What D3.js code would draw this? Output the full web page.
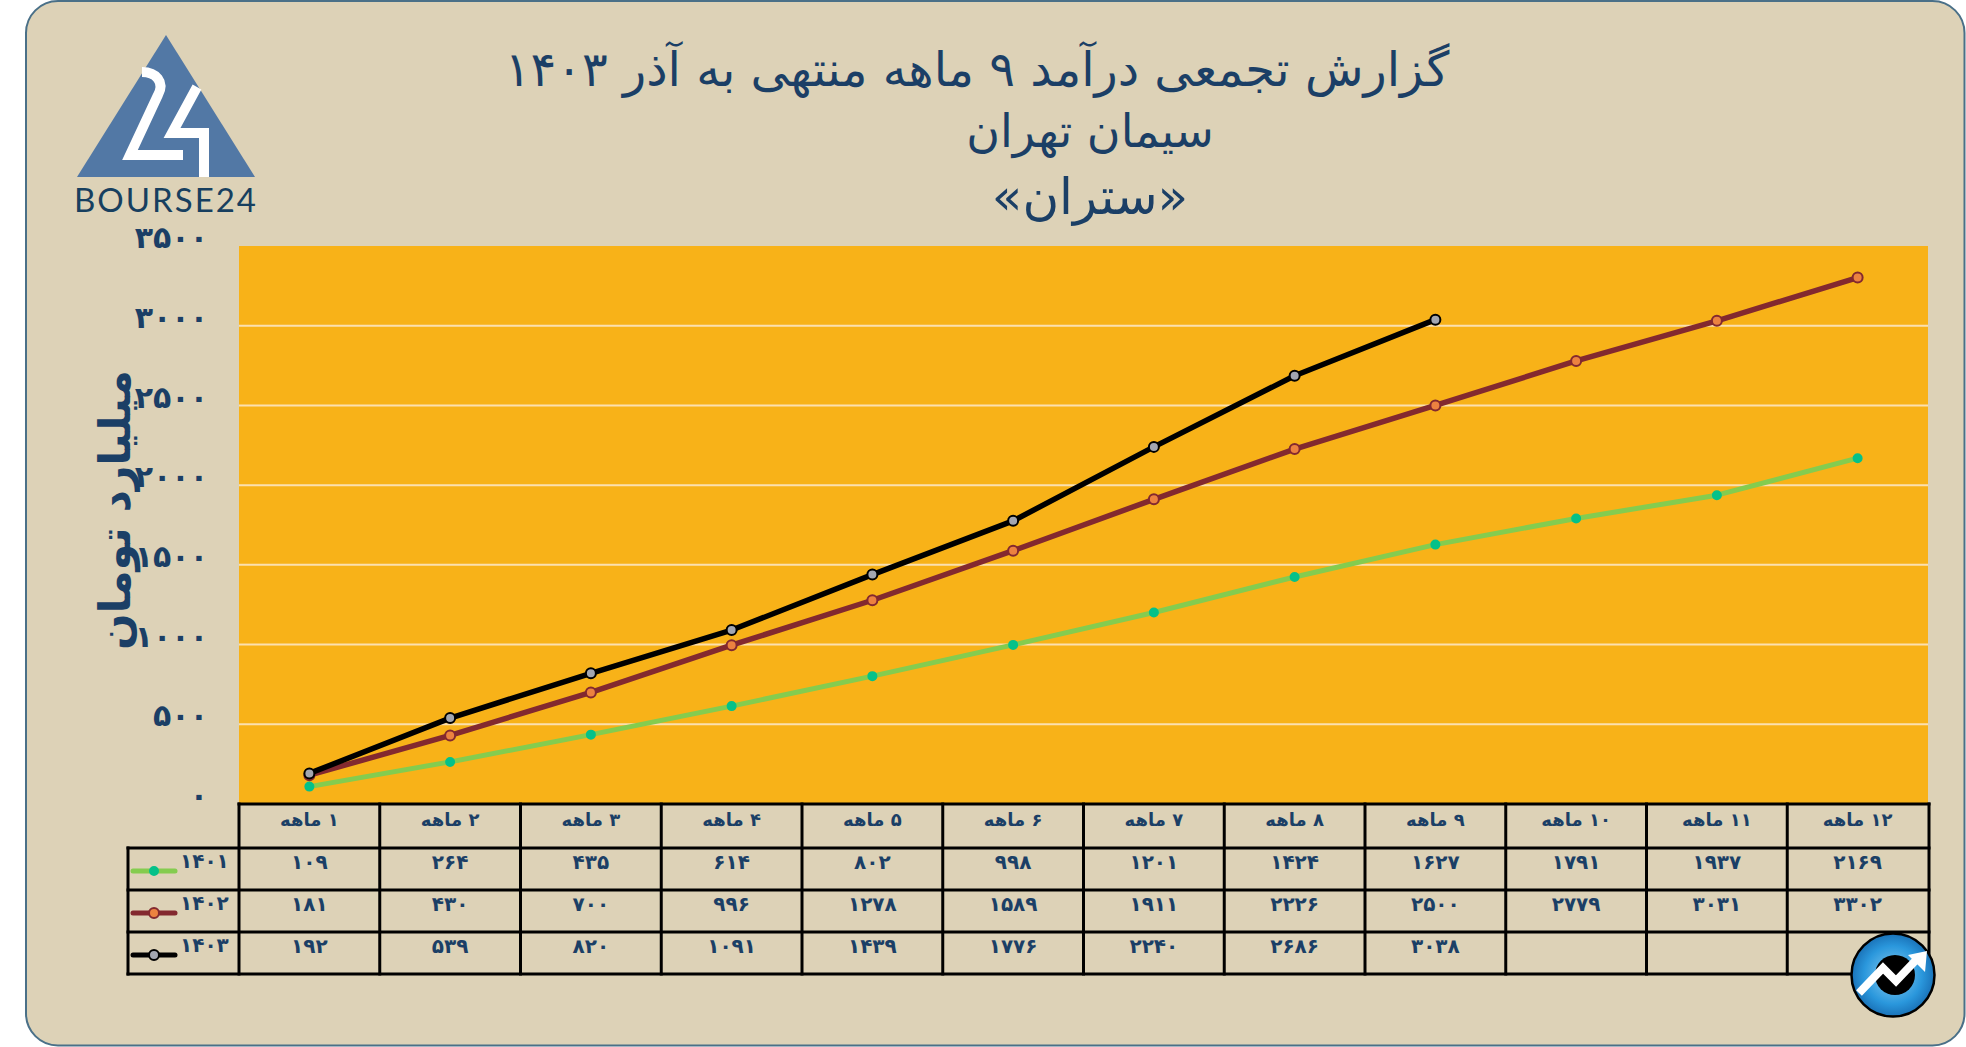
<!DOCTYPE html>
<html lang="fa">
<head>
<meta charset="utf-8">
<script src="https://cdn.jsdelivr.net/npm/d3@7"></script>
<style>
  html, body { margin: 0; padding: 0; background: #fff; }
  svg { display: block; }
  text { font-family: "DejaVu Sans", sans-serif; fill: #1b3f66; }
  .cell { font-size: 20px; font-weight: bold; text-anchor: middle; direction: rtl; }
  .head { font-size: 18px; }
  .title { text-anchor: middle; direction: rtl; }
</style>
</head>
<body>
<svg id="chart" width="1966" height="1047"></svg>
<script>
var months = ["۱ ماهه", "۲ ماهه", "۳ ماهه", "۴ ماهه", "۵ ماهه", "۶ ماهه", "۷ ماهه", "۸ ماهه", "۹ ماهه", "۱۰ ماهه", "۱۱ ماهه", "۱۲ ماهه"];
var values1401 = [109, 264, 435, 614, 802, 998, 1201, 1424, 1627, 1791, 1937, 2169];
var values1402 = [181, 430, 700, 996, 1278, 1589, 1911, 2226, 2500, 2779, 3031, 3302];
var values1403 = [192, 539, 820, 1091, 1439, 1776, 2240, 2686, 3038];
var yTicks = [0, 500, 1000, 1500, 2000, 2500, 3000, 3500];
var titleLines = ["گزارش تجمعی درآمد ۹ ماهه منتهی به آذر ۱۴۰۳", "سیمان تهران", "«ستران»"];
var yTitle = "میلیارد تومان";

var series = [
  { name: "۱۴۰۱", values: values1401, line: "#84cc4f", dot: "#05c189", dotStroke: "#05c189", w: 5, r: 4 },
  { name: "۱۴۰۲", values: values1402, line: "#83292f", dot: "#ec8240", dotStroke: "#83292f", w: 5.5, r: 5 },
  { name: "۱۴۰۳", values: values1403, line: "#000000", dot: "#a3a6b0", dotStroke: "#000000", w: 5.5, r: 5 }
];

var plot = { left: 239, right: 1928, top: 246, bottom: 804 };
var rowLines = [804, 848, 890, 932, 974];
var tableLeft = 128;

function fa(n) {
  return String(n).replace(/\d/g, function(d) { return "۰۱۲۳۴۵۶۷۸۹"[d]; });
}

var svg = d3.select("#chart");

var x = d3.scaleBand().domain(months).range([plot.left, plot.right]);
var y = d3.scaleLinear().domain([0, 3500]).range([plot.bottom, plot.top]);

// panel
svg.append("rect")
  .attr("x", 26).attr("y", 1).attr("width", 1938.5).attr("height", 1044.5)
  .attr("rx", 32)
  .attr("fill", "#ddd2b7")
  .attr("stroke", "#4a7088")
  .attr("stroke-width", 2);

// plot area
svg.append("rect")
  .attr("x", plot.left).attr("y", plot.top)
  .attr("width", plot.right - plot.left).attr("height", plot.bottom - plot.top)
  .attr("fill", "#f8b218");

svg.append("g").selectAll("line")
  .data(yTicks.filter(function(d) { return d > 0 && d < 3500; }))
  .enter().append("line")
  .attr("x1", plot.left).attr("x2", plot.right)
  .attr("y1", function(d) { return y(d); })
  .attr("y2", function(d) { return y(d); })
  .attr("stroke", "#fbe0b0")
  .attr("stroke-width", 2);

// y axis labels, they sit a bit above their gridlines in the original
var yAxis = svg.append("g")
  .attr("transform", "translate(208,-8)")
  .call(d3.axisLeft(y).tickValues(yTicks).tickSize(0).tickPadding(0).tickFormat(fa));
yAxis.select(".domain").remove();
yAxis.selectAll("text")
  .style("font-family", '"DejaVu Sans", sans-serif')
  .style("font-size", "30px")
  .style("font-weight", "bold")
  .style("fill", "#1b3f66");

// y axis title
svg.append("text")
  .attr("transform", "translate(130,510) rotate(-90)")
  .attr("text-anchor", "middle")
  .style("direction", "rtl")
  .style("font-size", "43px")
  .style("font-weight", "bold")
  .text(yTitle);

// titles
var titleX = [977, 1090, 1090];
var titleY = [86, 147, 214];
var titleSize = [48, 46, 50];
svg.append("g").selectAll("text")
  .data(titleLines)
  .enter().append("text")
  .attr("class", "title")
  .attr("x", function(d, i) { return titleX[i]; })
  .attr("y", function(d, i) { return titleY[i]; })
  .style("font-size", function(d, i) { return titleSize[i] + "px"; })
  .text(function(d) { return d; });

// lines and markers
var lineGen = d3.line()
  .x(function(d, i) { return x(months[i]) + x.bandwidth() / 2; })
  .y(function(d) { return y(d); });

series.forEach(function(s) {
  svg.append("path")
    .attr("d", lineGen(s.values))
    .attr("fill", "none")
    .attr("stroke", s.line)
    .attr("stroke-width", s.w)
    .attr("stroke-linejoin", "round");

  svg.append("g").selectAll("circle")
    .data(s.values)
    .enter().append("circle")
    .attr("cx", function(d, i) { return x(months[i]) + x.bandwidth() / 2; })
    .attr("cy", function(d) { return y(d); })
    .attr("r", s.r)
    .attr("fill", s.dot)
    .attr("stroke", s.dotStroke)
    .attr("stroke-width", 2);
});

// data table
var grid = svg.append("g").attr("stroke", "#000").attr("stroke-width", 3).attr("stroke-linecap", "square");
rowLines.forEach(function(ry, i) {
  grid.append("line")
    .attr("x1", i === 0 ? plot.left : tableLeft).attr("x2", plot.right + 1)
    .attr("y1", ry).attr("y2", ry);
});
grid.append("line")
  .attr("x1", tableLeft).attr("x2", tableLeft)
  .attr("y1", rowLines[1]).attr("y2", rowLines[4]);
months.forEach(function(m) {
  grid.append("line")
    .attr("x1", x(m)).attr("x2", x(m))
    .attr("y1", rowLines[0]).attr("y2", rowLines[4]);
});
grid.append("line")
  .attr("x1", plot.right + 1).attr("x2", plot.right + 1)
  .attr("y1", rowLines[0]).attr("y2", rowLines[4]);

svg.append("g").selectAll("text")
  .data(months)
  .enter().append("text")
  .attr("class", "cell head")
  .attr("x", function(d) { return x(d) + x.bandwidth() / 2; })
  .attr("y", rowLines[0] + 22)
  .text(function(d) { return d; });

series.forEach(function(s, row) {
  var rowY = rowLines[row + 1];

  svg.append("g").selectAll("text")
    .data(s.values)
    .enter().append("text")
    .attr("class", "cell")
    .attr("x", function(d, i) { return x(months[i]) + x.bandwidth() / 2; })
    .attr("y", rowY + 21)
    .text(fa);

  // legend key
  svg.append("line")
    .attr("x1", 133).attr("x2", 175)
    .attr("y1", rowY + 23).attr("y2", rowY + 23)
    .attr("stroke", s.line)
    .attr("stroke-width", 5)
    .attr("stroke-linecap", "round");
  svg.append("circle")
    .attr("cx", 154).attr("cy", rowY + 23)
    .attr("r", s.r)
    .attr("fill", s.dot)
    .attr("stroke", s.dotStroke)
    .attr("stroke-width", 2);
  svg.append("text")
    .attr("x", 180).attr("y", rowY + 20)
    .style("font-size", "20px")
    .style("font-weight", "bold")
    .text(s.name);
});

// Bourse24 logo, top left
var logo = svg.append("g");
logo.append("path")
  .attr("d", "M166,35 L255,177 L77,177 Z")
  .attr("fill", "#5278a5");
logo.append("path")
  .attr("d", "M142,72 C156,72 165,82 158,95 L130,155 L183,155")
  .attr("fill", "none").attr("stroke", "#fff").attr("stroke-width", 10);
logo.append("path")
  .attr("d", "M197,87 L172,133 L204,133 L204,177")
  .attr("fill", "none").attr("stroke", "#fff").attr("stroke-width", 10);
logo.append("text")
  .attr("x", 74).attr("y", 212)
  .attr("textLength", 182)
  .style("font-family", "Lato, sans-serif")
  .style("font-size", "33px")
  .style("fill", "#173f5f")
  .text("BOURSE24");

// round badge, bottom right
var badge = svg.append("g");
var grad = svg.append("defs").append("radialGradient").attr("id", "badgeFill");
grad.append("stop").attr("offset", "0%").attr("stop-color", "#8fd0f2");
grad.append("stop").attr("offset", "70%").attr("stop-color", "#2a97dc");
grad.append("stop").attr("offset", "100%").attr("stop-color", "#1a72b8");
badge.append("circle")
  .attr("cx", 1893).attr("cy", 975).attr("r", 41.5)
  .attr("fill", "url(#badgeFill)")
  .attr("stroke", "#000").attr("stroke-width", 2.5);
badge.append("circle")
  .attr("cx", 1895).attr("cy", 975).attr("r", 20)
  .attr("fill", "#000");
badge.append("path")
  .attr("d", "M1859,993 L1883,968 L1896,981 L1918,958")
  .attr("fill", "none").attr("stroke", "#fff").attr("stroke-width", 8);
badge.append("path")
  .attr("d", "M1908,955 L1927,951 L1925,972 Z")
  .attr("fill", "#fff");
</script>
</body>
</html>
